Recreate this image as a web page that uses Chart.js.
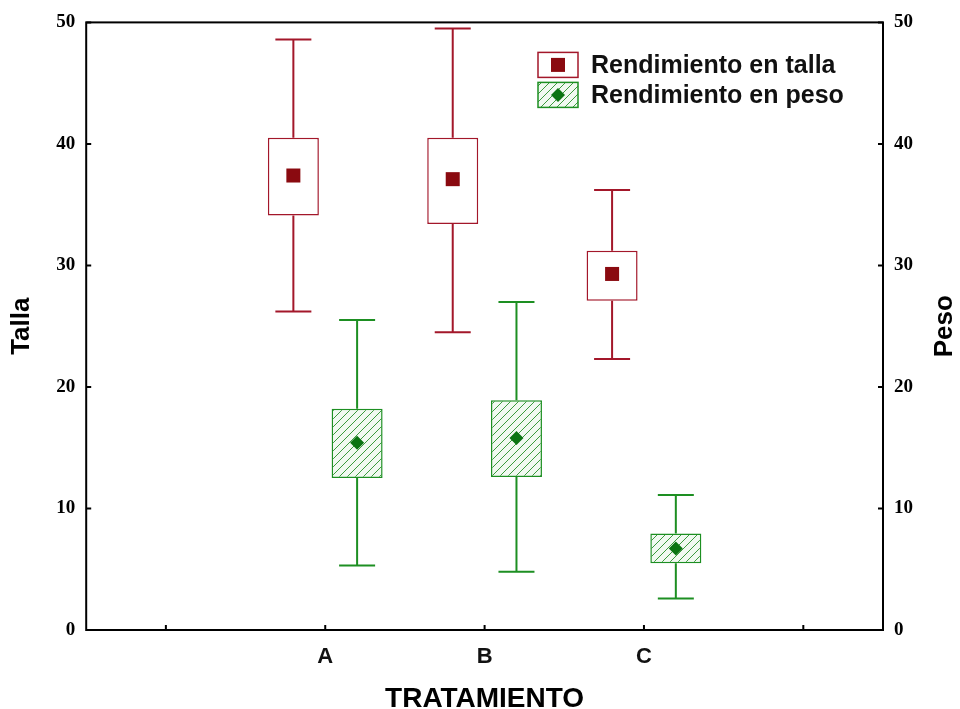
<!DOCTYPE html>
<html>
<head>
<meta charset="utf-8">
<script src="https://cdn.jsdelivr.net/npm/chart.js@4.4.1/dist/chart.umd.min.js"></script>
<style>
  html, body { margin: 0; padding: 0; background: #fff; }
  #wrap { width: 960px; height: 709px; }
</style>
</head>
<body>
<div id="wrap"><canvas id="boxChart"></canvas></div>
<script>
// categorias del eje X (los extremos quedan vacios)
const categories = ['', 'A', 'B', 'C', ''];

// Rendimiento en talla (eje izquierdo)
const tallaMedia   = [null, 37.4, 37.1, 29.3, null];
const tallaCajaInf = [null, 34.1, 33.4, 27.1, null];
const tallaCajaSup = [null, 40.5, 40.5, 31.2, null];
const tallaMin     = [null, 26.2, 24.5, 22.3, null];
const tallaMax     = [null, 48.6, 49.5, 36.2, null];

// Rendimiento en peso (eje derecho, misma escala)
const pesoMedia   = [null, 15.4, 15.8, 6.7, null];
const pesoCajaInf = [null, 12.5, 12.6, 5.5, null];
const pesoCajaSup = [null, 18.2, 18.9, 7.95, null];
const pesoMin     = [null, 5.3, 4.8, 2.6, null];
const pesoMax     = [null, 25.5, 27.0, 11.1, null];

const yMin = 0, yMax = 50, yStep = 10;

const ROJO = '#a3172a';
const ROJO_MARCA = '#8a0a10';
const VERDE = '#1d8f22';
const VERDE_MARCA = '#0b7412';

// patron rayado para las cajas verdes
function rayado(fondo, linea) {
    const c = document.createElement('canvas');
    c.width = 8; c.height = 8;
    const g = c.getContext('2d');
    g.fillStyle = fondo;
    g.fillRect(0, 0, 8, 8);
    g.strokeStyle = linea;
    g.lineWidth = 1;
    g.beginPath();
    g.moveTo(0, 8); g.lineTo(8, 0);
    g.moveTo(-2, 2); g.lineTo(2, -2);
    g.moveTo(6, 10); g.lineTo(10, 6);
    g.stroke();
    return g.createPattern(c, 'repeat');
}
const patronVerde = rayado('#f1f9f1', '#3c9a3e');

function marca(ctx, tipo, x, y) {
    if (tipo === 'cuadro') {
        ctx.fillStyle = ROJO_MARCA;
        ctx.fillRect(x - 7, y - 7, 14, 14);
    } else {
        ctx.fillStyle = VERDE_MARCA;
        ctx.beginPath();
        ctx.moveTo(x, y - 7); ctx.lineTo(x + 7, y); ctx.lineTo(x, y + 7); ctx.lineTo(x - 7, y);
        ctx.closePath();
        ctx.fill();
    }
}

// bigotes, medias, marco, marcas de ejes y leyenda
const cajasPlugin = {
    id: 'cajas',
    afterDatasetsDraw(chart) {
        const ctx = chart.ctx;
        const y = chart.scales.y;
        const series = [
            { meta: chart.getDatasetMeta(0), inf: tallaCajaInf, sup: tallaCajaSup, min: tallaMin, max: tallaMax, media: tallaMedia, color: ROJO, tipo: 'cuadro' },
            { meta: chart.getDatasetMeta(1), inf: pesoCajaInf, sup: pesoCajaSup, min: pesoMin, max: pesoMax, media: pesoMedia, color: VERDE, tipo: 'rombo' }
        ];
        ctx.save();
        series.forEach(s => {
            s.meta.data.forEach((bar, i) => {
                if (s.media[i] == null) return;
                const x = bar.x;
                ctx.strokeStyle = s.color;
                ctx.lineWidth = 2;
                ctx.beginPath();
                ctx.moveTo(x, y.getPixelForValue(s.sup[i]));
                ctx.lineTo(x, y.getPixelForValue(s.max[i]));
                ctx.moveTo(x, y.getPixelForValue(s.inf[i]));
                ctx.lineTo(x, y.getPixelForValue(s.min[i]));
                ctx.moveTo(x - 18, y.getPixelForValue(s.max[i]));
                ctx.lineTo(x + 18, y.getPixelForValue(s.max[i]));
                ctx.moveTo(x - 18, y.getPixelForValue(s.min[i]));
                ctx.lineTo(x + 18, y.getPixelForValue(s.min[i]));
                ctx.stroke();
                marca(ctx, s.tipo, x, y.getPixelForValue(s.media[i]));
            });
        });
        ctx.restore();
    },
    afterDraw(chart) {
        const ctx = chart.ctx;
        const a = chart.chartArea;
        const x = chart.scales.x;
        const y = chart.scales.y;
        ctx.save();
        // marco
        ctx.strokeStyle = '#000';
        ctx.lineWidth = 2;
        ctx.strokeRect(a.left, a.top, a.right - a.left, a.bottom - a.top);
        // marcas hacia dentro
        ctx.beginPath();
        y.ticks.forEach((t, i) => {
            const py = y.getPixelForTick(i);
            ctx.moveTo(a.left, py); ctx.lineTo(a.left + 5, py);
            ctx.moveTo(a.right, py); ctx.lineTo(a.right - 5, py);
        });
        categories.forEach((c, i) => {
            const px = x.getPixelForTick(i);
            ctx.moveTo(px, a.bottom); ctx.lineTo(px, a.bottom - 5);
        });
        ctx.stroke();

        // titulo del eje derecho
        ctx.fillStyle = '#000';
        ctx.font = 'bold 26px "Liberation Sans", Arial, sans-serif';
        ctx.textAlign = 'center';
        ctx.textBaseline = 'middle';
        ctx.translate(945, (a.top + a.bottom) / 2);
        ctx.rotate(-Math.PI / 2);
        ctx.fillText('Peso', 0, 0);
        ctx.restore();

        // leyenda
        ctx.save();
        const lx = a.right - 345, ly = a.top + 30;
        ctx.fillStyle = '#fff';
        ctx.fillRect(lx, ly, 40, 25);
        ctx.strokeStyle = ROJO; ctx.lineWidth = 1.5;
        ctx.strokeRect(lx, ly, 40, 25);
        marca(ctx, 'cuadro', lx + 20, ly + 12.5);
        ctx.fillStyle = patronVerde;
        ctx.fillRect(lx, ly + 30, 40, 25);
        ctx.strokeStyle = VERDE;
        ctx.strokeRect(lx, ly + 30, 40, 25);
        marca(ctx, 'rombo', lx + 20, ly + 42.5);
        ctx.fillStyle = '#111';
        ctx.font = 'bold 25px "Liberation Sans", Arial, sans-serif';
        ctx.textAlign = 'left';
        ctx.textBaseline = 'middle';
        ctx.fillText('Rendimiento en talla', lx + 53, ly + 14);
        ctx.fillText('Rendimiento en peso', lx + 53, ly + 44);
        ctx.restore();
    }
};

const tickFont = { family: '"Liberation Serif", "Times New Roman", serif', size: 19, weight: 'bold' };

new Chart(document.getElementById('boxChart'), {
    type: 'bar',
    data: {
        labels: categories,
        datasets: [
            {
                label: 'Rendimiento en talla',
                data: tallaCajaInf.map((v, i) => v == null ? null : [v, tallaCajaSup[i]]),
                backgroundColor: '#fff',
                borderColor: ROJO,
                borderWidth: 1.5,
                borderSkipped: false,
                categoryPercentage: 0.8,
                barPercentage: 0.8,
                yAxisID: 'y'
            },
            {
                label: 'Rendimiento en peso',
                data: pesoCajaInf.map((v, i) => v == null ? null : [v, pesoCajaSup[i]]),
                backgroundColor: patronVerde,
                borderColor: VERDE,
                borderWidth: 1.5,
                borderSkipped: false,
                categoryPercentage: 0.8,
                barPercentage: 0.8,
                yAxisID: 'y'
            }
        ]
    },
    options: {
        responsive: true,
        maintainAspectRatio: false,
        animation: false,
        layout: { padding: { top: 12, right: 36, left: 6, bottom: -7 } },
        plugins: {
            legend: { display: false },
            tooltip: { enabled: false }
        },
        scales: {
            x: {
                grid: { display: false, drawTicks: false },
                border: { display: false },
                ticks: { color: '#111', font: { family: '"Liberation Sans", Arial, sans-serif', size: 22, weight: 'bold' }, padding: 14 },
                title: {
                    display: true,
                    text: 'TRATAMIENTO',
                    color: '#000',
                    font: { family: '"Liberation Sans", Arial, sans-serif', size: 28, weight: 'bold' },
                    padding: { top: -2, bottom: 0 }
                }
            },
            y: {
                min: yMin, max: yMax,
                grid: { display: false, drawTicks: false },
                border: { display: false },
                ticks: { stepSize: yStep, color: '#000', font: tickFont, padding: 11 },
                title: {
                    display: true,
                    text: 'Talla',
                    color: '#000',
                    font: { family: '"Liberation Sans", Arial, sans-serif', size: 26, weight: 'bold' },
                    padding: { top: 0, bottom: 8 }
                }
            },
            y2: {
                position: 'right',
                min: yMin, max: yMax,
                grid: { display: false, drawTicks: false },
                border: { display: false },
                ticks: { stepSize: yStep, color: '#000', font: tickFont, padding: 11 }
            }
        }
    },
    plugins: [cajasPlugin]
});
</script>
</body>
</html>
